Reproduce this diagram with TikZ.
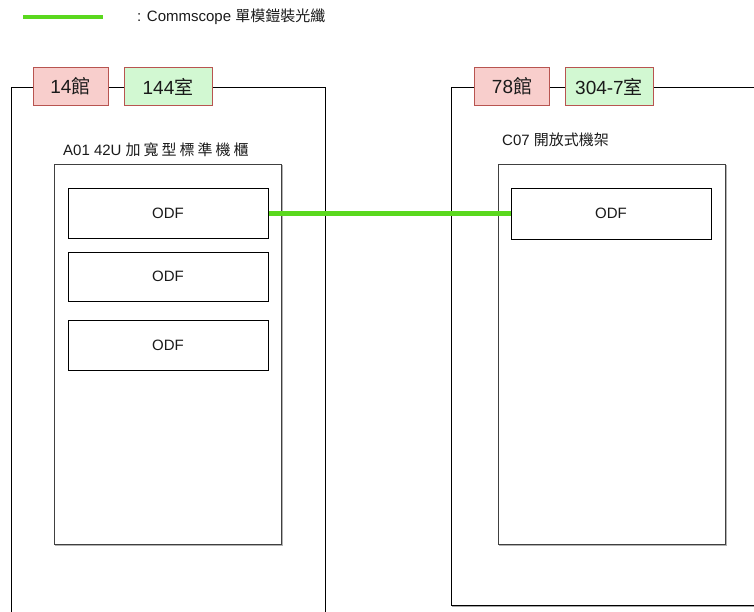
\documentclass[tikz,border=0pt]{standalone}
\usepackage{fontspec}
\setmainfont{Liberation Sans}
\newfontfamily\cjk{Noto Sans CJK TC}
\newfontfamily\cjkwide[LetterSpace=20]{Noto Sans CJK TC}
\definecolor{fiber}{HTML}{5AD81E}
\definecolor{redfill}{HTML}{F8CECC}
\definecolor{redline}{HTML}{B85450}
\definecolor{greenfill}{HTML}{D2F8D2}
\definecolor{txt}{HTML}{1A1A1A}
\begin{document}
\begin{tikzpicture}[x=1pt,y=-1pt,
  room/.style={draw=black,line width=1pt},
  rack/.style={draw=black!75,line width=1pt},
  rackshadow/.style={draw=black!30,line width=1pt},
  odf/.style={draw=black,line width=1pt,fill=white,minimum width=200pt,inner sep=0pt,
    font=\fontsize{15}{18}\selectfont,text=txt},
  bldg/.style={draw=redline,line width=1pt,fill=redfill,inner sep=0pt,minimum height=38pt,
    font=\fontsize{19}{22}\selectfont,text=txt},
  roomlbl/.style={draw=redline,line width=1pt,fill=greenfill,inner sep=0pt,minimum height=38pt,
    font=\fontsize{19}{22}\selectfont,text=txt},
  captext/.style={inner sep=0pt,anchor=west,font=\fontsize{15}{18}\selectfont,text=txt},
  fiberline/.style={draw=fiber,line width=5pt}]
\useasboundingbox (0,0) rectangle (754,611);
\clip (0,0) rectangle (754,611);
% legend
\coordinate (lgA) at (23,17);
\coordinate (lgB) at (103,17);
\draw[fiber,line width=4pt] (lgA) -- (lgB);
\node[captext] (lgtext) at (137,17) {: Commscope {\cjk 單模鎧裝光纖}};
% rooms
\draw[room] (11,640) -- (11,87) -- (325,87) -- (325,640);
\draw[black!35,line width=1pt] (452,606) -- (760,606);
\draw[room] (451,87) -- (451,605) -- (760,605);
\draw[room] (451,87) -- (760,87);
% room labels
\node[bldg,minimum width=75pt] (b14) at (70.5,86.5) {14{\cjk 館}};
\node[roomlbl,minimum width=88pt] (r144) at (168,86.5) {144{\cjk 室}};
\node[bldg,minimum width=75pt] (b78) at (512,86.5) {78{\cjk 館}};
\node[roomlbl,minimum width=88pt] (r304) at (609,86.5) {304-7{\cjk 室}};
% rack captions
\node[captext] (capA) at (63,150) {A01 42U {\cjkwide 加寬型標準機櫃}};
\node[captext] (capC) at (502,140) {C07 {\cjk 開放式機架}};
% racks
\draw[rackshadow] (55,545) -- (282,545) -- (282,165);
\draw[rack] (54,164) rectangle (281,544);
\draw[rackshadow] (499,545) -- (726,545) -- (726,165);
\draw[rack] (498,164) rectangle (725,544);
% ODFs
\node[odf,minimum height=50pt] (odfL1) at (168,213) {ODF};
\node[odf,minimum height=49pt] (odfL2) at (168,276.5) {ODF};
\node[odf,minimum height=50pt] (odfL3) at (168,345) {ODF};
\node[odf,minimum height=51pt] (odfR) at (611,213.5) {ODF};
% fiber
\draw[fiberline] (odfL1.east) -- (odfR.west |- odfL1.east);
\end{tikzpicture}
\end{document}
